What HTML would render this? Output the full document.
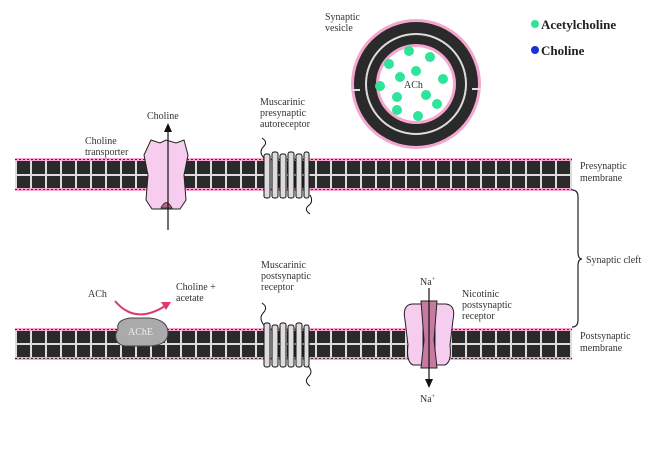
<!DOCTYPE html>
<html><head><meta charset="utf-8"><style>
html,body{margin:0;padding:0;background:#fff;}
svg{display:block;font-family:"Liberation Serif",serif;}
</style></head><body>
<svg width="663" height="450" viewBox="0 0 663 450" xmlns="http://www.w3.org/2000/svg">
<defs>
<pattern id="ticks" x="15" y="0" width="15" height="450" patternUnits="userSpaceOnUse">
<rect x="0" y="0" width="2" height="450" fill="#ddd"/>
</pattern>
</defs>
<!-- membranes -->
<g>
<rect x="15" y="158" width="557" height="33" fill="#f4a6cf"/>
<rect x="15" y="161" width="557" height="27" fill="#2a2a2a"/>
<rect x="15" y="161" width="557" height="27" fill="url(#ticks)"/>
<rect x="15" y="174" width="557" height="2" fill="#ddd"/>
<line x1="15" y1="159.5" x2="572" y2="159.5" stroke="#333" stroke-dasharray="2 2"/>
<line x1="15" y1="189.5" x2="572" y2="189.5" stroke="#333" stroke-dasharray="2 2"/>
</g>
<g>
<rect x="15" y="328" width="557" height="32" fill="#f4a6cf"/>
<rect x="15" y="331" width="557" height="26" fill="#2a2a2a"/>
<rect x="15" y="331" width="557" height="26" fill="url(#ticks)"/>
<rect x="15" y="343" width="557" height="2" fill="#ddd"/>
<line x1="15" y1="329.5" x2="572" y2="329.5" stroke="#333" stroke-dasharray="2 2"/>
<line x1="15" y1="358.5" x2="572" y2="358.5" stroke="#333" stroke-dasharray="2 2"/>
</g>
<!-- vesicle -->
<circle cx="416" cy="84" r="65" fill="#f4a6cf"/>
<circle cx="416" cy="84" r="62" fill="#2a2a2a"/>
<circle cx="416" cy="84" r="50" fill="none" stroke="#ddd" stroke-width="2"/>
<circle cx="416" cy="84" r="40" fill="#f4a6cf"/>
<circle cx="416" cy="84" r="37" fill="#fff"/>
<line x1="351" y1="90" x2="360" y2="90" stroke="#ddd" stroke-width="2"/>
<line x1="472" y1="89" x2="481" y2="89" stroke="#ddd" stroke-width="2"/>
<g fill="#2ee39a">
<circle cx="409" cy="51" r="5"/><circle cx="430" cy="57" r="5"/><circle cx="389" cy="64" r="5"/>
<circle cx="400" cy="77" r="5"/><circle cx="416" cy="71" r="5"/><circle cx="443" cy="79" r="5"/>
<circle cx="380" cy="86" r="5"/><circle cx="397" cy="97" r="5"/><circle cx="426" cy="95" r="5"/>
<circle cx="437" cy="104" r="5"/><circle cx="397" cy="110" r="5"/><circle cx="418" cy="116" r="5"/>
</g>
<text x="404" y="88" font-size="10" fill="#333">ACh</text>
<text x="325" y="20" font-size="10" fill="#333">Synaptic</text>
<text x="325" y="31" font-size="10" fill="#333">vesicle</text>
<!-- legend -->
<circle cx="535" cy="24" r="4" fill="#2ee39a"/>
<text x="541" y="29" font-size="13" font-weight="bold" fill="#222">Acetylcholine</text>
<circle cx="535" cy="50" r="4" fill="#1a2fd6"/>
<text x="541" y="55" font-size="13" font-weight="bold" fill="#222">Choline</text>
<!-- choline transporter -->
<path d="M151,140 L160,143 L166,140 L176,143 L184,140 L188,155 L184,175 L186,200 L180,209 L152,209 L146,200 L148,175 L144,155 Z" fill="#f6cdef" stroke="#222" stroke-width="1"/>
<path d="M161,208 Q166,197 172,208 Z" fill="#b86480" stroke="#222" stroke-width="0.8"/>
<line x1="168" y1="230" x2="168" y2="130" stroke="#111" stroke-width="1.2"/>
<polygon points="168,123 164,132 172,132" fill="#111"/>
<text x="147" y="119" font-size="10" fill="#333">Choline</text>
<text x="85" y="144" font-size="10" fill="#333">Choline</text>
<text x="85" y="155" font-size="10" fill="#333">transporter</text>
<!-- muscarinic presynaptic -->
<g fill="#ddd" stroke="#111" stroke-width="1">
<rect x="264" y="154" width="6" height="44" rx="2"/><rect x="272" y="152" width="6" height="46" rx="2"/>
<rect x="280" y="154" width="6" height="44" rx="2"/><rect x="288" y="152" width="6" height="46" rx="2"/>
<rect x="296" y="154" width="6" height="44" rx="2"/><rect x="304" y="152" width="5" height="46" rx="2"/>
</g>
<path d="M264,158 Q258,152 264,146 Q268,142 262,138" fill="none" stroke="#111"/>
<path d="M310,195 Q314,202 308,206 Q304,210 310,214" fill="none" stroke="#111"/>
<text x="260" y="105" font-size="10" fill="#333">Muscarinic</text>
<text x="260" y="116" font-size="10" fill="#333">presynaptic</text>
<text x="260" y="127" font-size="10" fill="#333">autoreceptor</text>
<!-- AChE -->
<path d="M118,329 Q116,320 130,318 L150,318 Q168,320 168,333 Q168,345 150,346 L125,346 Q114,344 116,333 Z" fill="#aaa" stroke="#444"/>
<text x="128" y="335" font-size="10" fill="#eee">AChE</text>
<path d="M115,301 Q135,325 165,306" fill="none" stroke="#e0386e" stroke-width="2"/>
<polygon points="171,302 161,302 166,310" fill="#e0386e"/>
<text x="88" y="297" font-size="10" fill="#333">ACh</text>
<text x="176" y="290" font-size="10" fill="#333">Choline +</text>
<text x="176" y="301" font-size="10" fill="#333">acetate</text>
<!-- muscarinic postsynaptic -->
<g fill="#ddd" stroke="#111" stroke-width="1">
<rect x="264" y="323" width="6" height="44" rx="2"/><rect x="272" y="325" width="6" height="42" rx="2"/>
<rect x="280" y="323" width="6" height="44" rx="2"/><rect x="288" y="325" width="6" height="42" rx="2"/>
<rect x="296" y="323" width="6" height="44" rx="2"/><rect x="304" y="325" width="5" height="42" rx="2"/>
</g>
<path d="M264,325 Q258,318 264,312 Q268,307 262,303" fill="none" stroke="#111"/>
<path d="M308,366 Q314,372 308,377 Q304,382 310,386" fill="none" stroke="#111"/>
<text x="261" y="268" font-size="10" fill="#333">Muscarinic</text>
<text x="261" y="279" font-size="10" fill="#333">postsynaptic</text>
<text x="261" y="290" font-size="10" fill="#333">receptor</text>
<!-- nicotinic -->
<path d="M412,304 Q402,305 405,320 L408,345 Q406,362 413,365 L423,365 L423,304 Z" fill="#f6cdef" stroke="#222"/>
<path d="M446,304 Q456,305 453,320 L450,345 Q452,362 445,365 L435,365 L435,304 Z" fill="#f6cdef" stroke="#222"/>
<path d="M421,301 L437,301 L434,340 L437,368 L421,368 L424,340 Z" fill="#c77aa0" stroke="#222"/>
<line x1="429" y1="288" x2="429" y2="380" stroke="#111" stroke-width="1.2"/>
<polygon points="429,388 425,379 433,379" fill="#111"/>
<text x="420" y="285" font-size="10" fill="#333">Na<tspan font-size="6" dy="-4">+</tspan></text>
<text x="420" y="402" font-size="10" fill="#333">Na<tspan font-size="6" dy="-4">+</tspan></text>
<text x="462" y="297" font-size="10" fill="#333">Nicotinic</text>
<text x="462" y="308" font-size="10" fill="#333">postsynaptic</text>
<text x="462" y="319" font-size="10" fill="#333">receptor</text>
<!-- brace -->
<path d="M572,190 Q578,190 578,197 L578,252 Q578,259 582,259 Q578,259 578,266 L578,320 Q578,327 572,327" fill="none" stroke="#222" stroke-width="1.2"/>
<text x="580" y="169" font-size="10" fill="#333">Presynaptic</text>
<text x="580" y="181" font-size="10" fill="#333">membrane</text>
<text x="586" y="263" font-size="10" fill="#333">Synaptic cleft</text>
<text x="580" y="339" font-size="10" fill="#333">Postsynaptic</text>
<text x="580" y="351" font-size="10" fill="#333">membrane</text>
</svg>
</body></html>
